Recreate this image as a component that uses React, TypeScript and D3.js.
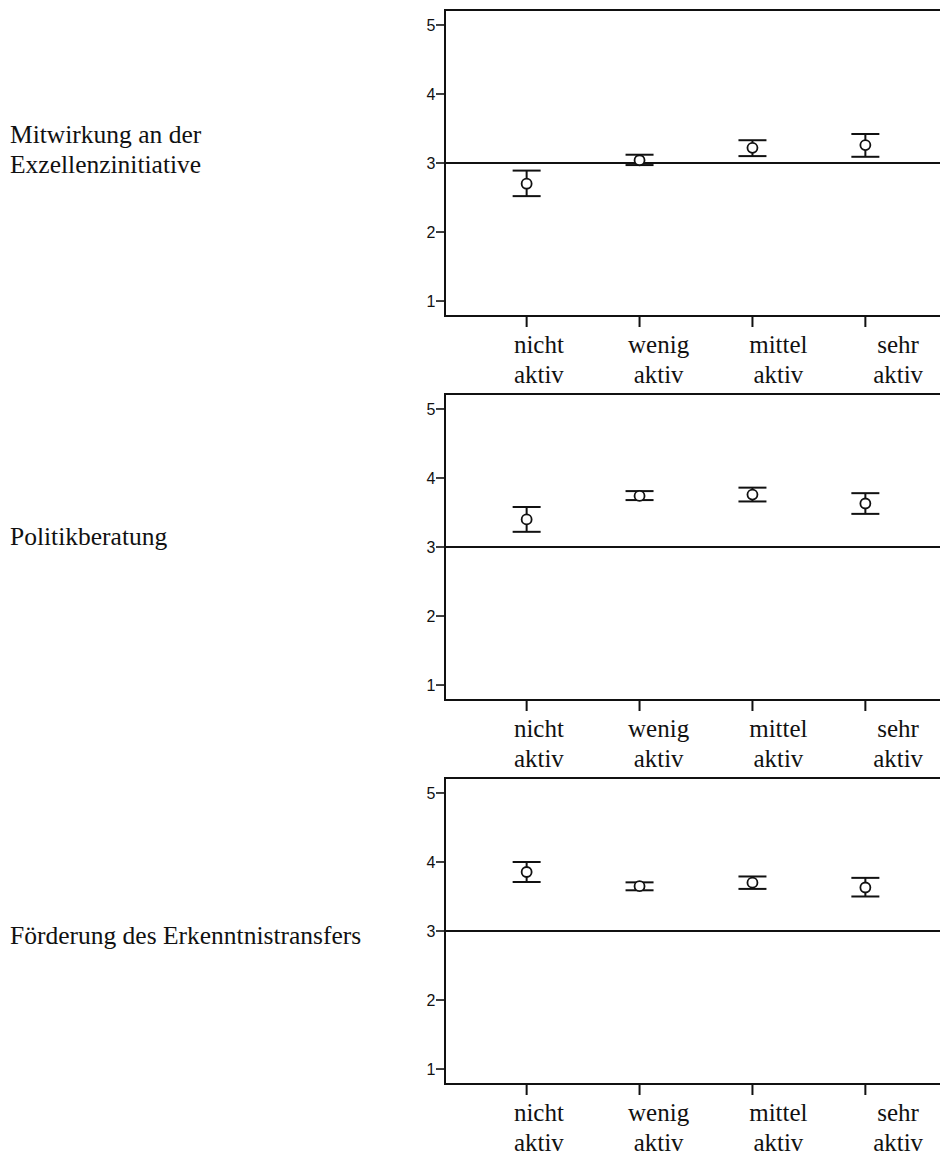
import React from "react";
import * as d3 from "d3";

const categories = ["nicht aktiv", "wenig aktiv", "mittel aktiv", "sehr aktiv"];
const yTicks = [1, 2, 3, 4, 5];
const refValue = 3;

const rowLabels = [
  ["Mitwirkung an der", "Exzellenzinitiative"],
  ["Politikberatung"],
  ["Förderung des Erkenntnistransfers"],
];

const exzMean = [2.70, 3.04, 3.22, 3.26];
const exzLow = [2.52, 2.97, 3.10, 3.09];
const exzHigh = [2.89, 3.12, 3.33, 3.42];

const polMean = [3.40, 3.74, 3.76, 3.63];
const polLow = [3.22, 3.68, 3.66, 3.48];
const polHigh = [3.58, 3.81, 3.86, 3.78];

const transMean = [3.855, 3.65, 3.70, 3.63];
const transLow = [3.71, 3.59, 3.61, 3.50];
const transHigh = [4.00, 3.705, 3.79, 3.77];

const panels = [
  { label: rowLabels[0], mean: exzMean, low: exzLow, high: exzHigh, labelY: 132.7 },
  { label: rowLabels[1], mean: polMean, low: polLow, high: polHigh, labelY: 151 },
  { label: rowLabels[2], mean: transMean, low: transLow, high: transHigh, labelY: 166 },
];

const W = 940;
const H = 1158;
const left = 445;
const right = 947;
const panelH = 306;
const panelTops = [10, 394, 778];
const ink = "#111";
const serif = "'Liberation Serif', 'Times New Roman', serif";
const sans = "'Liberation Sans', Arial, sans-serif";

export default function App() {
  const x = d3.scalePoint<string>().domain(categories).range([left, right]).padding(0.723);
  const xl = d3.scalePoint<string>().domain(categories).range([479, 958]).padding(0.5);
  const y = d3.scaleLinear().domain([0.783, 5.217]).range([panelH, 0]);
  const capHalf = 14;
  const sw = 2;

  return (
    <svg width={W} height={H} style={{ position: "absolute", left: 0, top: 0, background: "#fff" }}>
      {panels.map((p, pi) => {
        const top = panelTops[pi];
        return (
          <g key={pi} transform={`translate(0,${top})`}>
            {p.label.map((line, li) => (
              <text key={li} x={10} y={p.labelY + li * 30} fontFamily={serif} fontSize={25.5} fill={ink}>
                {line}
              </text>
            ))}
            <path
              d={`M${right},0H${left}V${panelH}H${right}`}
              fill="none"
              stroke={ink}
              strokeWidth={sw}
            />
            {yTicks.map((t) => (
              <g key={t}>
                <line x1={left - 9} x2={left} y1={y(t)} y2={y(t)} stroke={ink} strokeWidth={1.6} />
                <text
                  x={left - 9.5}
                  y={y(t)}
                  dy="0.36em"
                  textAnchor="end"
                  fontFamily={sans}
                  fontSize={16}
                  fill={ink}
                >
                  {t}
                </text>
              </g>
            ))}
            <line x1={left} x2={right} y1={y(refValue)} y2={y(refValue)} stroke={ink} strokeWidth={sw} />
            {categories.map((c, i) => {
              const cx = x(c)!;
              const words = c.split(" ");
              return (
                <g key={c}>
                  <line x1={cx} x2={cx} y1={panelH} y2={panelH + 11} stroke={ink} strokeWidth={sw} />
                  {words.map((w, wi) => (
                    <text
                      key={wi}
                      x={xl(c)!}
                      y={panelH + 37 + wi * 29.5}
                      textAnchor="middle"
                      fontFamily={serif}
                      fontSize={25}
                      fill={ink}
                    >
                      {w}
                    </text>
                  ))}
                  <line x1={cx} x2={cx} y1={y(p.low[i])} y2={y(p.high[i])} stroke={ink} strokeWidth={sw} />
                  <line
                    x1={cx - capHalf}
                    x2={cx + capHalf}
                    y1={y(p.low[i])}
                    y2={y(p.low[i])}
                    stroke={ink}
                    strokeWidth={sw}
                  />
                  <line
                    x1={cx - capHalf}
                    x2={cx + capHalf}
                    y1={y(p.high[i])}
                    y2={y(p.high[i])}
                    stroke={ink}
                    strokeWidth={sw}
                  />
                  <circle cx={cx} cy={y(p.mean[i])} r={5} fill="#fff" stroke={ink} strokeWidth={1.8} />
                </g>
              );
            })}
          </g>
        );
      })}
    </svg>
  );
}
